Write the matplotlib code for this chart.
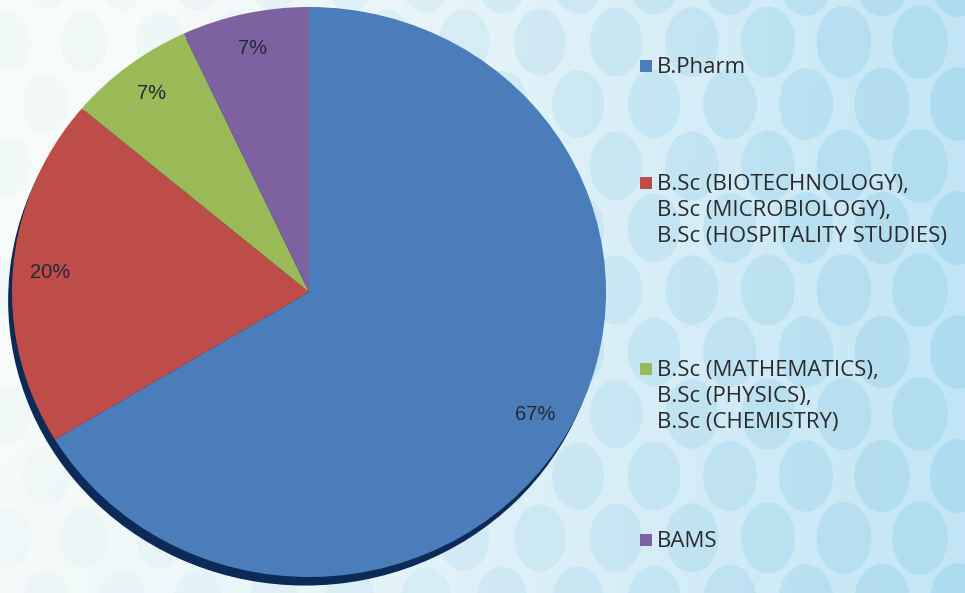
import numpy as np
import matplotlib
matplotlib.use("Agg")
import matplotlib.pyplot as plt
from matplotlib.patches import Ellipse, Rectangle

# ---- data ----
categories = [
    "B.Pharm",
    "B.Sc (BIOTECHNOLOGY),\nB.Sc (MICROBIOLOGY),\nB.Sc (HOSPITALITY STUDIES)",
    "B.Sc (MATHEMATICS),\nB.Sc (PHYSICS),\nB.Sc (CHEMISTRY)",
    "BAMS",
]
percentages = [67, 20, 7, 7]
colors = ["#4a7dba", "#be4c49", "#99ba56", "#7e61a1"]

W, H = 965, 593
fig = plt.figure(figsize=(W / 100, H / 100), dpi=100)

# ---- background (decorative gradient + soft dots) ----
bg = fig.add_axes([0, 0, 1, 1], zorder=0)
bg.set_xlim(0, W)
bg.set_ylim(H, 0)
bg.axis("off")
xx = np.linspace(0, 1, 200)
yy = np.linspace(0, 1, 120)
X, Y = np.meshgrid(xx, yy)
t = np.clip(0.05 + 0.95 * X ** 1.2 - 0.2 * (1 - Y) * (1 - X), 0, 1)
c0 = np.array([0.97, 0.985, 0.98])
c1 = np.array([0.76, 0.90, 0.965])
img = c0[None, None, :] * (1 - t[..., None]) + c1[None, None, :] * t[..., None]
bg.imshow(img, extent=[0, W, H, 0], aspect="auto", zorder=0)
for r, yc in enumerate(np.arange(-20, H + 60, 62)):
    for xc in np.arange(-30 + (r % 2) * 38, W + 60, 76):
        f = float(np.clip(xc / W, 0, 1))
        a = 0.05 + 0.30 * f ** 1.3
        bg.add_patch(Ellipse((xc, yc), 46 + 10 * f, 58 + 16 * f,
                             facecolor="#8ccbe6", edgecolor="none",
                             alpha=a, zorder=1))

# ---- pie ----
cx, cy, rx, ry = 309, 292, 297, 285
ax = fig.add_axes([(cx - rx) / W, 1 - (cy + ry) / H, 2 * rx / W, 2 * ry / H], zorder=2)
ax.set_xlim(-1, 1)
ax.set_ylim(-1, 1)
ax.axis("off")
# shadow
ax.add_patch(Ellipse((-0.013, -0.03), 2, 2, facecolor="#0b2a57",
                     edgecolor="none", zorder=0, clip_on=False))
pct_text = [f"{p}%" for p in percentages]
wedges, texts = ax.pie(percentages, colors=colors, startangle=90,
                       counterclock=False, labels=pct_text, labeldistance=0.875,
                       radius=1, wedgeprops=dict(linewidth=0))
ax.set_aspect("auto")
ax.set_xlim(-1, 1)
ax.set_ylim(-1, 1)
for w in wedges:
    w.set_clip_on(False)
    w.set_zorder(1)
for tx in texts:
    tx.set_ha("center")
    tx.set_va("center")
    tx.set_fontsize(14.5)
    tx.set_color("#232a35")
    tx.set_family("Liberation Sans")
    tx.set_zorder(3)

# ---- legend (manual, Excel-style) ----
leg_y = [66, 183, 369, 540]
for w, lab, y in zip(wedges, categories, leg_y):
    bg.add_patch(Rectangle((640, y - 6), 12, 12, facecolor=w.get_facecolor(),
                           edgecolor="none", zorder=3))
    bg.text(657, y - 9, lab, fontsize=16, family="Open Sans", color="#2b2b2b",
            va="top", ha="left", linespacing=1.3, zorder=3)

fig.savefig("out.png", dpi=100)
